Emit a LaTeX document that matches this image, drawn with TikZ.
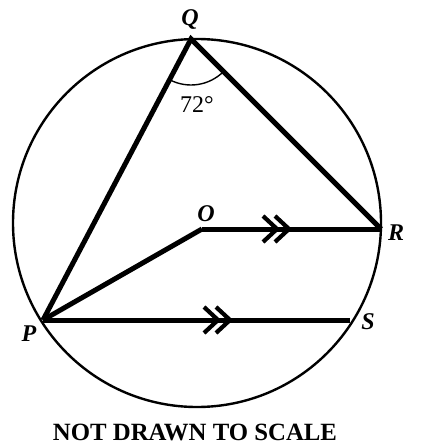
\documentclass[tikz,border=0pt]{standalone}
\usepackage{fontspec}
\setmainfont{Liberation Serif}
\usetikzlibrary{angles}

\tikzset{
  chord/.style = {line width = 5pt},
  rim/.style = {line width = 2.4pt},
  ptlabel/.style = {font = \fontsize{24}{28}\selectfont\bfseries\itshape},
  chev/.pic = {
    \draw [line width = 4.2pt] (-14, -13) -- (0, 0) -- (-14, 13);
    \draw [line width = 4.2pt] (-2, -13) -- (12, 0) -- (-2, 13);
  }
}

\begin{document}
\begin{tikzpicture}[x = 1pt, y = -1pt]
  \useasboundingbox (0, 0) rectangle (438, 446);
  % points on the circle
  \coordinate (C) at (197, 223);
  \coordinate (Q) at (191, 39);
  \coordinate (R) at (381, 229);
  \coordinate (P) at (43, 320);
  \coordinate (S) at (350, 320);
  \coordinate (O) at (202, 229);
  \draw [rim] (C) circle [radius = 184];
  \draw [chord, line join = miter] (P) -- (Q) -- (R);
  \draw [chord] (O) -- (R);
  \draw [chord] (O) -- (P);
  \draw [chord] (P) -- (S);
  % parallel marks
  \pic at (277, 229) {chev};
  \pic at (218, 320) {chev};
  % angle at Q
  \pic [draw, line width = 1.4pt, angle radius = 46pt] {angle = P--Q--R};
  \node (ang) at (197, 105) {\fontsize{24}{28}\selectfont 72°};
  \node [ptlabel] (lQ) at (190, 20) {Q};
  \node [ptlabel] (lO) at (206, 214) {O};
  \node [ptlabel] (lR) at (396, 233) {R};
  \node [ptlabel] (lP) at (29, 334) {P};
  \node [ptlabel] (lS) at (368, 322) {S};
  \node [font = \fontsize{24.8}{28}\selectfont\bfseries] (note) at (195, 432) {NOT DRAWN TO SCALE};
\end{tikzpicture}
\end{document}
